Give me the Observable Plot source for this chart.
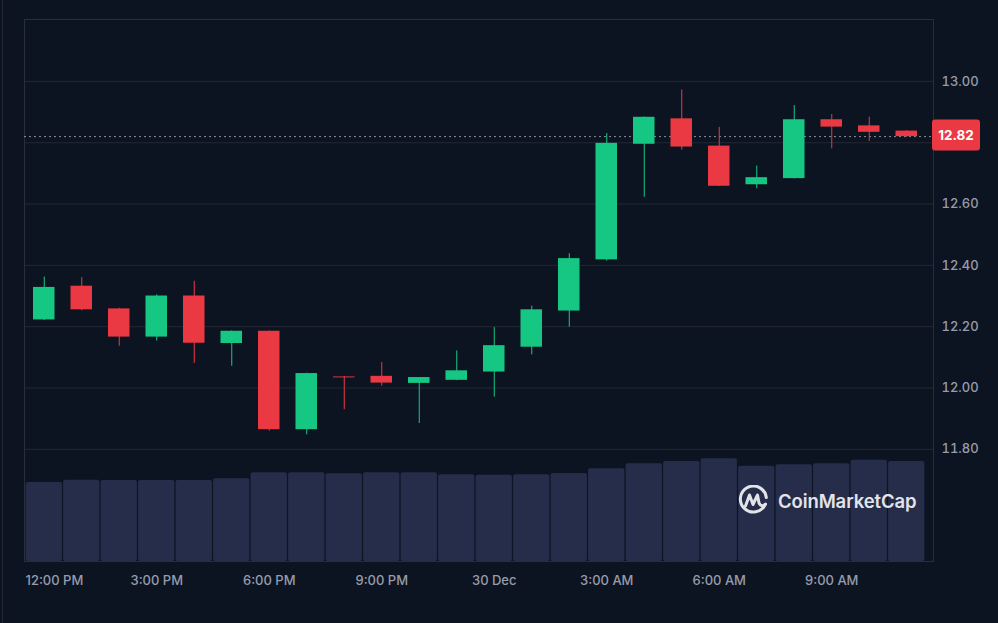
<!DOCTYPE html>
<html><head><meta charset="utf-8">
<script src="https://cdn.jsdelivr.net/npm/d3@7"></script>
<script src="https://cdn.jsdelivr.net/npm/@observablehq/plot@0.6"></script>
<style>
html,body{margin:0;padding:0;background:#0d1421;}
#wrap{position:relative;width:998px;height:623px;background:#0d1421;overflow:hidden;font-family:Inter,sans-serif;}
#wrap svg.layer{position:absolute;left:0;top:0;}
#edge{position:absolute;left:2px;top:0;width:1px;height:623px;background:#222631;}
#wm{position:absolute;left:738px;top:485px;display:flex;align-items:center;gap:9px;color:#e2e4ea;font:600 18.5px Inter,sans-serif;letter-spacing:-0.1px;}
</style></head><body>
<div id="wrap"><div id="edge"></div></div>
<script>
const times = ["12:00 PM","1:00 PM","2:00 PM","3:00 PM","4:00 PM","5:00 PM","6:00 PM","7:00 PM","8:00 PM","9:00 PM","10:00 PM","11:00 PM","30 Dec","1:00 AM","2:00 AM","3:00 AM","4:00 AM","5:00 AM","6:00 AM","7:00 AM","8:00 AM","9:00 AM","10:00 AM","11:00 AM"];
const opens  = [12.222,12.332,12.258,12.166,12.300,12.145,12.185,11.864,12.036,12.038,12.015,12.025,12.052,12.133,12.251,12.418,12.795,12.878,12.789,12.663,12.683,12.875,12.855,12.838];
const highs  = [12.362,12.360,12.260,12.304,12.348,12.186,12.186,12.048,12.037,12.083,12.034,12.121,12.197,12.267,12.438,12.830,12.884,12.972,12.850,12.724,12.921,12.892,12.883,12.839];
const lows   = [12.220,12.252,12.136,12.153,12.080,12.071,11.859,11.847,11.929,12.006,11.884,12.024,11.970,12.108,12.198,12.414,12.622,12.776,12.657,12.650,12.682,12.780,12.804,12.818];
const closes = [12.328,12.255,12.166,12.300,12.146,12.185,11.864,12.047,12.033,12.016,12.034,12.056,12.138,12.255,12.422,12.798,12.883,12.786,12.658,12.686,12.875,12.851,12.834,12.820];
const volumes = [7.90,8.13,8.10,8.10,8.10,8.27,8.87,8.87,8.77,8.87,8.87,8.67,8.63,8.67,8.80,9.27,9.77,10.00,10.27,9.53,9.67,9.77,10.13,10.00];
const gridTicks = [11.8,12.0,12.2,12.4,12.6,12.8,13.0];
const yTickLabels = [11.8,12.0,12.2,12.4,12.6,13.0];
const xTickLabels = ["12:00 PM","3:00 PM","6:00 PM","9:00 PM","30 Dec","3:00 AM","6:00 AM","9:00 AM"];
const lastPrice = 12.82;

const UP = "#16c784", DOWN = "#ea3943";
const data = times.map((t, i) => ({
  time: t, open: opens[i], high: highs[i], low: lows[i], close: closes[i], volume: volumes[i],
  color: closes[i] >= opens[i] ? UP : DOWN
}));

const common = {
  width: 998, height: 623,
  marginLeft: 24, marginRight: 65, marginTop: 19, marginBottom: 62,
  style: {background: "transparent", color: "#969cab", fontFamily: "Inter, sans-serif", fontSize: "13px"}
};

const volPlot = Plot.plot({
  ...common,
  x: {type: "band", domain: times, range: [25, 925], padding: 0, round: false, axis: null},
  y: {domain: [0, 54.2], axis: null},
  marks: [
    Plot.barY(data, {x: "time", y: "volume", fill: "#252d4b", insetLeft: 0.6, insetRight: 0.6, rx: 2})
  ]
});
volPlot.setAttribute("class", "layer");

const pricePlot = Plot.plot({
  ...common,
  x: {type: "band", domain: times, range: [25, 925], padding: 0, round: false},
  y: {domain: [11.434, 13.202]},
  color: {type: "identity"},
  marks: [
    Plot.gridY(gridTicks, {stroke: "#232733", strokeOpacity: 1}),
    Plot.frame({stroke: "#2a2e3a"}),
    Plot.ruleY([lastPrice], {stroke: "#9ea4b0", strokeOpacity: 0.85, strokeDasharray: "2,3"}),
    Plot.ruleX(data, {x: "time", y1: "low", y2: "high", stroke: "color", strokeWidth: 1}),
    Plot.barY(data, {x: "time", y1: "open", y2: "close", fill: "color", insetLeft: 8, insetRight: 8}),
    Plot.axisY(yTickLabels, {anchor: "right", tickSize: 0, tickPadding: 8, tickFormat: d => d.toFixed(2), label: null, fontWeight: 500}),
    Plot.axisX(xTickLabels.slice(1), {tickSize: 0, tickPadding: 14, label: null, fontWeight: 500}),
    Plot.axisX(xTickLabels.slice(0, 1), {tickSize: 0, tickPadding: 14, label: null, textAnchor: "start", dx: -18.75, fontWeight: 500})
  ]
});
pricePlot.setAttribute("class", "layer");

// current price tag, positioned through the plot's y scale
const yPos = pricePlot.scale("y").apply(lastPrice);
const tag = d3.select(pricePlot).append("g");
tag.append("rect").attr("x", 932).attr("y", yPos - 16.5).attr("width", 48).attr("height", 31)
  .attr("rx", 3).attr("fill", DOWN);
tag.append("text").attr("x", 956).attr("y", yPos - 1).attr("text-anchor", "middle")
  .attr("dominant-baseline", "central").attr("fill", "#ffffff")
  .style("font", "700 13.5px Inter, sans-serif").text(lastPrice.toFixed(2));

const wrap = document.getElementById("wrap");
wrap.appendChild(volPlot);
wrap.appendChild(pricePlot);

// watermark
const wm = document.createElement("div");
wm.id = "wm";
wm.innerHTML = `<svg width="31" height="31" viewBox="0 0 31 31">
  <path d="M27.2 19.5 A13 13 0 1 1 28.3 12.5" fill="none" stroke="#e2e4ea" stroke-width="3" stroke-linecap="round"/>
  <path d="M7.5 21 L11.5 10 L15 19.5 L19.5 10 L21 18 Q23.5 23 27.5 19" fill="none" stroke="#e2e4ea" stroke-width="3" stroke-linejoin="round" stroke-linecap="round"/>
</svg><span>CoinMarketCap</span>`;
wrap.appendChild(wm);
</script>
</body></html>
